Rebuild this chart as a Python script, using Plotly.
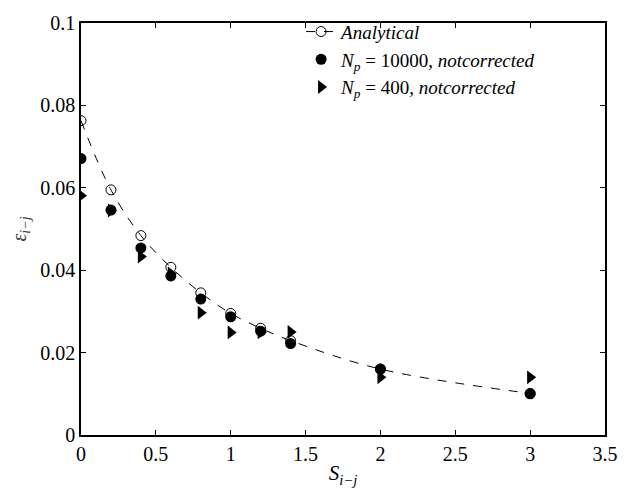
import plotly.graph_objects as go

s_analytical = [0, 0.2, 0.4, 0.6, 0.8, 1.0, 1.2, 1.4, 2.0, 3.0]
eps_analytical = [0.0763, 0.0595, 0.0484, 0.0407, 0.0345, 0.0295, 0.0259, 0.0229, 0.0160, 0.0101]

s_np10000 = [0, 0.2, 0.4, 0.6, 0.8, 1.0, 1.2, 1.4, 2.0, 3.0]
eps_np10000 = [0.0671, 0.0546, 0.0454, 0.0386, 0.0330, 0.0287, 0.0252, 0.0222, 0.0160, 0.0100]

s_np400 = [0, 0.2, 0.4, 0.6, 0.8, 1.0, 1.2, 1.4, 2.0, 3.0]
eps_np400 = [0.0581, 0.0545, 0.0433, 0.0392, 0.0297, 0.0249, 0.0249, 0.0250, 0.0140, 0.0140]

x_ticks = [0, 0.5, 1, 1.5, 2, 2.5, 3, 3.5]
y_ticks = [0, 0.02, 0.04, 0.06, 0.08, 0.1]

FONT = "Liberation Serif"

fig = go.Figure()
fig.add_trace(go.Scatter(
    x=s_analytical, y=eps_analytical, mode="lines+markers",
    name="<i>Analytical</i>",
    line=dict(color="black", width=1, dash="dash", shape="spline"),
    marker=dict(symbol="circle-open", size=10, color="black", line=dict(width=1)),
))
fig.add_trace(go.Scatter(
    x=s_np10000, y=eps_np10000, mode="markers",
    name="<i>N</i><sub><i>p</i></sub> = 10000, <i>notcorrected</i>",
    marker=dict(symbol="circle", size=11, color="black"),
))
fig.add_trace(go.Scatter(
    x=s_np400, y=eps_np400, mode="markers",
    name="<i>N</i><sub><i>p</i></sub> = 400, <i>notcorrected</i>",
    marker=dict(symbol="triangle-right", size=12, color="black"),
))

axis_common = dict(
    showgrid=False, zeroline=False, showline=True, linecolor="black", linewidth=1.5,
    mirror="ticks", ticks="inside", ticklen=5, tickcolor="black",
    tickfont=dict(family=FONT, size=20, color="black"),
)
fig.update_xaxes(range=[0, 3.5], tickvals=x_ticks, ticktext=[f"{v:g}" for v in x_ticks],
                 title=dict(text="<i>S</i><sub><i>i−j</i></sub>", font=dict(family=FONT, size=21, color="black"), standoff=2),
                 **axis_common)
fig.update_yaxes(range=[0, 0.1], tickvals=y_ticks, ticktext=[f"{v:g}" for v in y_ticks],
                 title=dict(text="<i>ε</i><sub><i>i−j</i></sub>", font=dict(family=FONT, size=20, color="#333"), standoff=8),
                 **axis_common)

fig.update_layout(
    width=630, height=494,
    margin=dict(l=81, r=13, t=12, b=59),
    paper_bgcolor="white", plot_bgcolor="white",
    showlegend=True,
    legend=dict(x=0.42, y=1.025, xanchor="left", yanchor="top",
                bgcolor="rgba(0,0,0,0)", borderwidth=0,
                font=dict(family=FONT, size=19, color="black"),
                tracegroupgap=0, itemwidth=30),
)

fig.write_html("out.html")
